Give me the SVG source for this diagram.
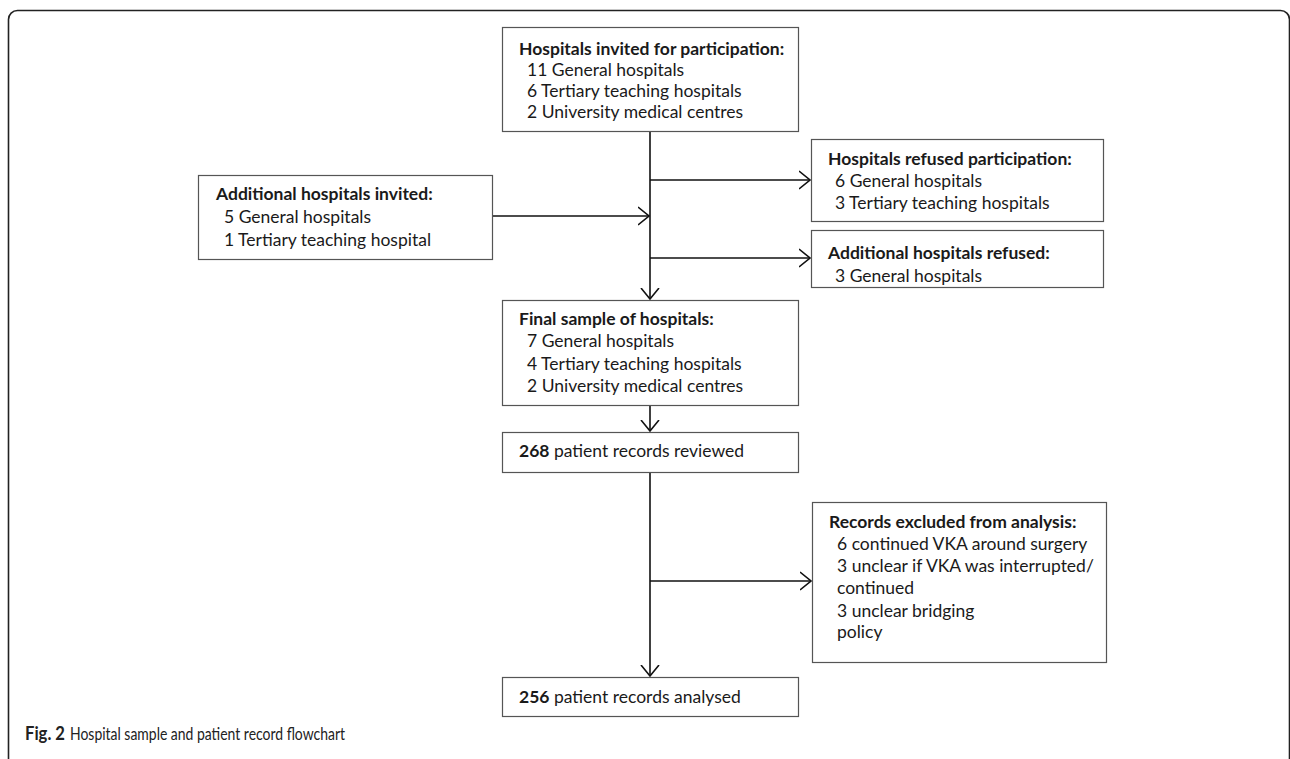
<svg xmlns="http://www.w3.org/2000/svg" width="1290" height="759" viewBox="0 0 1290 759">
<style>
.box{fill:#fff;stroke:#555;stroke-width:1.2}
.t{font-family:Lato,"Open Sans","Liberation Sans",sans-serif;font-size:17.5px;fill:#1a1a1a}
.b{font-weight:bold}
.c{fill:none;stroke:#111;stroke-width:1.6}
.cap{font-family:Lato,"Liberation Sans",sans-serif;font-size:18px;fill:#222}
</style>
<defs>
<marker id="ah" viewBox="0 0 12 20" refX="11" refY="10" markerWidth="12" markerHeight="20" markerUnits="userSpaceOnUse" orient="auto">
<path d="M0,1 L11,10 L0,19" fill="none" stroke="#111" stroke-width="1.6"/>
</marker>
<clipPath id="clip4"><rect x="811" y="230" width="293" height="57"/></clipPath>
</defs>
<rect x="8.5" y="10.5" width="1281" height="820" rx="9" fill="none" stroke="#222" stroke-width="1.6"/>
<g id="connectors">
<path class="c" d="M650,131 V299" marker-end="url(#ah)"/>
<path class="c" d="M650,180 H810" marker-end="url(#ah)"/>
<path class="c" d="M492,216 H649" marker-end="url(#ah)"/>
<path class="c" d="M650,258 H810" marker-end="url(#ah)"/>
<path class="c" d="M650,405 V431" marker-end="url(#ah)"/>
<path class="c" d="M650,472 V676" marker-end="url(#ah)"/>
<path class="c" d="M650,581 H811" marker-end="url(#ah)"/>
</g>
<g id="n1">
<rect class="box" x="502.5" y="27.5" width="296" height="104"/>
<text class="t b" x="519" y="55">Hospitals invited for participation:</text>
<text class="t" x="527" y="76">11 General hospitals</text>
<text class="t" x="527" y="97">6 Tertiary teaching hospitals</text>
<text class="t" x="527" y="118">2 University medical centres</text>
</g>
<g id="n2">
<rect class="box" x="811.5" y="139.5" width="292" height="82"/>
<text class="t b" x="828" y="165">Hospitals refused participation:</text>
<text class="t" x="835" y="187">6 General hospitals</text>
<text class="t" x="835" y="209">3 Tertiary teaching hospitals</text>
</g>
<g id="n3">
<rect class="box" x="198.5" y="175.5" width="294" height="84"/>
<text class="t b" x="216" y="200">Additional hospitals invited:</text>
<text class="t" x="224" y="223">5 General hospitals</text>
<text class="t" x="224" y="246">1 Tertiary teaching hospital</text>
</g>
<g id="n4">
<rect class="box" x="811.5" y="230.5" width="292" height="57"/>
<g clip-path="url(#clip4)">
<text class="t b" x="828" y="259">Additional hospitals refused:</text>
<text class="t" x="835" y="282">3 General hospitals</text>
</g>
</g>
<g id="n5">
<rect class="box" x="502.5" y="300.5" width="296" height="105"/>
<text class="t b" x="519" y="325">Final sample of hospitals:</text>
<text class="t" x="527" y="347">7 General hospitals</text>
<text class="t" x="527" y="370">4 Tertiary teaching hospitals</text>
<text class="t" x="527" y="392">2 University medical centres</text>
</g>
<g id="n6">
<rect class="box" x="502.5" y="432.5" width="296" height="40"/>
<text class="t" x="519" y="457"><tspan class="b">268</tspan> patient records reviewed</text>
</g>
<g id="n7">
<rect class="box" x="812.5" y="502.5" width="294" height="160"/>
<text class="t b" x="829" y="528">Records excluded from analysis:</text>
<text class="t" x="837" y="550">6 continued VKA around surgery</text>
<text class="t" x="837" y="572">3 unclear if VKA was interrupted/</text>
<text class="t" x="837" y="594">continued</text>
<text class="t" x="837" y="617">3 unclear bridging</text>
<text class="t" x="837" y="638">policy</text>
</g>
<g id="n8">
<rect class="box" x="502.5" y="677.5" width="296" height="39"/>
<text class="t" x="519" y="703"><tspan class="b">256</tspan> patient records analysed</text>
</g>
<text class="cap b" x="25" y="740" textLength="40" lengthAdjust="spacingAndGlyphs">Fig. 2</text>
<text class="cap" x="70" y="740" textLength="275" lengthAdjust="spacingAndGlyphs">Hospital sample and patient record flowchart</text>
</svg>
